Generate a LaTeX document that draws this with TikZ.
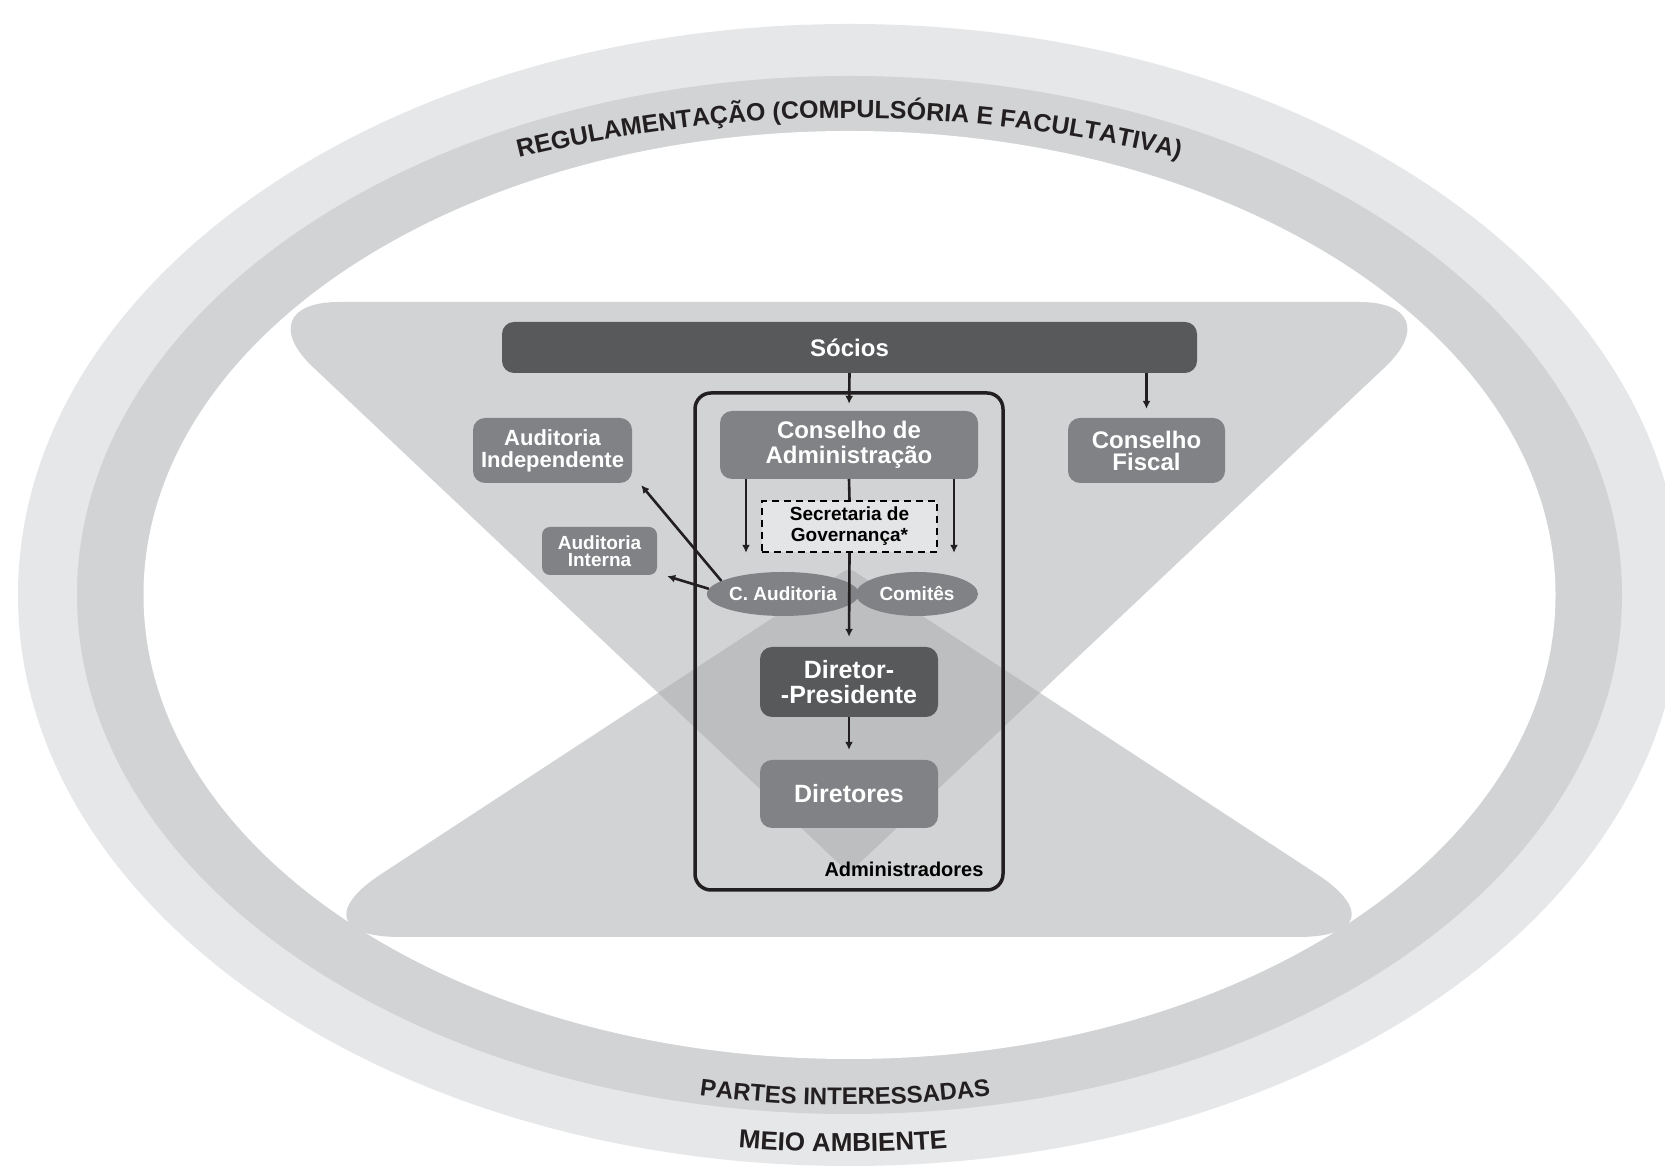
\documentclass[tikz,border=0pt]{standalone}
\usepackage{fontspec}
\setmainfont{Liberation Sans}
\usetikzlibrary{arrows.meta,decorations.text,shapes.geometric}
\definecolor{ringA}{HTML}{E6E7E8}
\definecolor{ringB}{HTML}{D1D3D4}
\definecolor{overlapc}{HTML}{BCBEC0}
\definecolor{boxmid}{HTML}{808285}
\definecolor{boxdark}{HTML}{58595B}
\definecolor{secfill}{HTML}{E4E5E6}
\definecolor{inkline}{HTML}{231F20}
\newcommand\bfsz[2]{\fontsize{#1}{#2}\selectfont\bfseries}
\begin{document}
\begin{tikzpicture}[x=1pt,y=1pt,
  box/.style={rounded corners=12pt, fill=boxmid, text=white, align=center, inner sep=0pt},
  darkbox/.style={box, fill=boxdark},
  oval/.style={ellipse, fill=boxmid, text=white, inner sep=0pt, minimum width=122pt, minimum height=44pt, font=\bfsz{19}{20}},
  arr/.style={draw=inkline, line width=2.6pt, -{Latex[length=8pt,width=8pt]}},
  link/.style={draw=inkline, line width=2.6pt}]
\useasboundingbox (0,0) rectangle (1665,1169);
\fill[white] (0,0) rectangle (1665,1169);
% rings
\fill[ringA] (849.5,574) ellipse [x radius=831.5, y radius=571];
\fill[ringB] (849.5,574) ellipse [x radius=772.5, y radius=519];
\fill[white] (849.5,574) ellipse [x radius=706, y radius=464];
% hourglass
\fill[ringB] (849,867) [rounded corners=95pt] -- (1454,867) [rounded corners=6pt] -- (849,296) [rounded corners=95pt] -- (244,867) -- cycle;
\fill[ringB] (849,232) [rounded corners=115pt] -- (1413,232) [rounded corners=6pt] -- (849,601) [rounded corners=115pt] -- (285,232) -- cycle;
\begin{scope}
\clip (849,867) [rounded corners=95pt] -- (1454,867) [rounded corners=6pt] -- (849,296) [rounded corners=95pt] -- (244,867) -- cycle;
\fill[overlapc] (849,232) [rounded corners=115pt] -- (1413,232) [rounded corners=6pt] -- (849,601) [rounded corners=115pt] -- (285,232) -- cycle;
\end{scope}
% ring texts
\path[decorate, decoration={text along path, text align=center, text={|\color{inkline}\bfsz{25}{25}|REGULAMENTAÇÃO (COMPULSÓRIA E FACULTATIVA)}}] (376.7,967.7) arc[start angle=110, end angle=70, radius=1381pt];
\path[decorate, decoration={text along path, text align=center, text={|\color{inkline}\bfsz{24}{24}|PARTES INTERESSADAS}}] (560.3,101.5) arc[start angle=255, end angle=285, radius=1100pt];
\path[decorate, decoration={text along path, text align=center, text={|\color{inkline}\bfsz{26}{26}|MEIO AMBIENTE}}] (572.7,45.4) arc[start angle=258, end angle=282, radius=1300pt];
% frame
\node[draw=inkline, line width=3.5pt, rounded corners=16pt, minimum width=308pt, minimum height=497pt, inner sep=0pt] (adm) at (849,527.5) {};
\node[font=\bfsz{20}{20}, text=black] (admlbl) at (904,300) {Administradores};
% boxes
\node[darkbox, minimum width=695pt, minimum height=51pt, font=\bfsz{24}{26}] (soc) at (849.5,821.5) {Sócios};
\node[box, minimum width=258pt, minimum height=68pt, font=\bfsz{24}{25}] (ca) at (849,724) {Conselho de\\Administração};
\node[box, minimum width=159pt, minimum height=65pt, font=\bfsz{22}{22}] (ai) at (552.5,718.5) {Auditoria\\Independente};
\node[box, rounded corners=8pt, minimum width=115pt, minimum height=48pt, font=\bfsz{19}{17}] (aint) at (599.5,618) {Auditoria\\Interna};
\node[box, minimum width=157pt, minimum height=65pt, font=\bfsz{24}{22}] (cf) at (1146.5,718.5) {Conselho\\Fiscal};
\node[draw=black, dash pattern=on 7pt off 5pt, line width=2.2pt, fill=secfill, minimum width=175pt, minimum height=51pt, inner sep=0pt, align=center, font=\bfsz{19}{21}] (sec) at (849.5,642.5) {Secretaria de\\Governança*};
\node[oval] (cau) at (783,575) {C. Auditoria};
\node[oval] (com) at (917,575) {Comitês};
\node[darkbox, minimum width=178pt, minimum height=70pt, font=\bfsz{25}{25}] (dp) at (849,487) {Diretor-\\-Presidente};
\node[box, minimum width=178pt, minimum height=68pt, font=\bfsz{25}{25}] (dir) at (849,375) {Diretores};
% connectors
\coordinate (lx) at (746,0);
\coordinate (rx) at (954,0);
\draw[arr, shorten >=7pt] (soc.south) -- (ca.north);
\draw[arr, shorten >=9pt] (soc.south -| cf.north) -- (cf.north);
\draw[link] (ca.south) -- (sec.north);
\draw[arr, shorten >=10pt] (sec.south) -- (dp.north);
\draw[arr, shorten >=19pt] (ca.south -| lx) -- (lx |- cau.north);
\draw[arr, shorten >=19pt] (ca.south -| rx) -- (rx |- com.north);
\draw[arr, shorten >=10pt] (dp.south) -- (dir.north);
\draw[arr] (cau.168) -- ([xshift=9pt,yshift=-2pt]ai.south east);
\draw[arr] (cau.176) -- ([xshift=10pt,yshift=-1pt]aint.south east);
\end{tikzpicture}
\end{document}
